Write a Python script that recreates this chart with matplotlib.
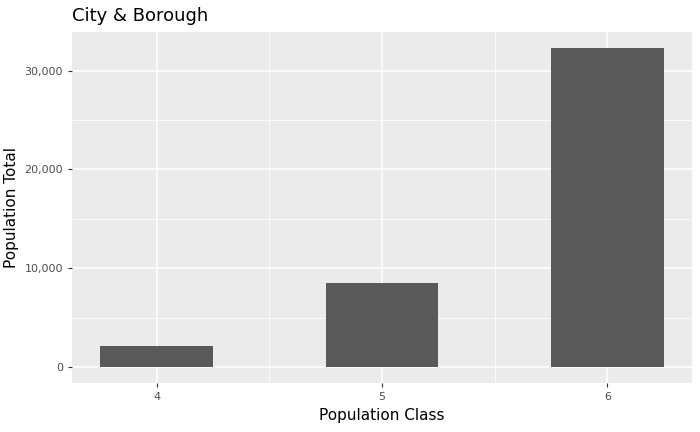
import matplotlib.pyplot as plt
from matplotlib.ticker import FuncFormatter, FixedLocator

pop_class = [4, 5, 6]
pop_total = [2100, 8500, 32300]

fig = plt.figure(figsize=(7, 4.32), dpi=100)
ax = fig.add_axes([72/700, 49/432, 620/700, 351/432])
ax.set_facecolor('#EBEBEB')
ax.bar(pop_class, pop_total, width=0.5, color='#595959', zorder=3)

xspan = max(pop_class) - min(pop_class) + 0.5
ax.set_xlim(min(pop_class) - 0.25 - 0.05*xspan, max(pop_class) + 0.25 + 0.05*xspan)
ymax = max(pop_total)
ax.set_ylim(-0.05*ymax, ymax*1.05)

ax.xaxis.set_major_locator(FixedLocator(pop_class))
ax.xaxis.set_minor_locator(FixedLocator([4.5, 5.5]))
ax.yaxis.set_major_locator(FixedLocator([0, 10000, 20000, 30000]))
ax.yaxis.set_minor_locator(FixedLocator([5000, 15000, 25000]))
ax.yaxis.set_major_formatter(FuncFormatter(lambda v, p: f'{int(v):,}'))
ax.grid(which='major', color='white', linewidth=1.1, zorder=0)
ax.grid(which='minor', color='white', linewidth=0.55, zorder=0)
for s in ax.spines.values():
    s.set_visible(False)
ax.tick_params(which='major', length=3, color='#333333', labelsize=8, labelcolor='#4D4D4D')
ax.tick_params(which='minor', length=0)

ax.set_xlabel('Population Class', fontsize=11)
ax.set_ylabel('Population Total', fontsize=11)
ax.set_title('City & Borough', fontsize=13, loc='left', x=-0.0, pad=8)

fig.savefig('out.png', dpi=100)
